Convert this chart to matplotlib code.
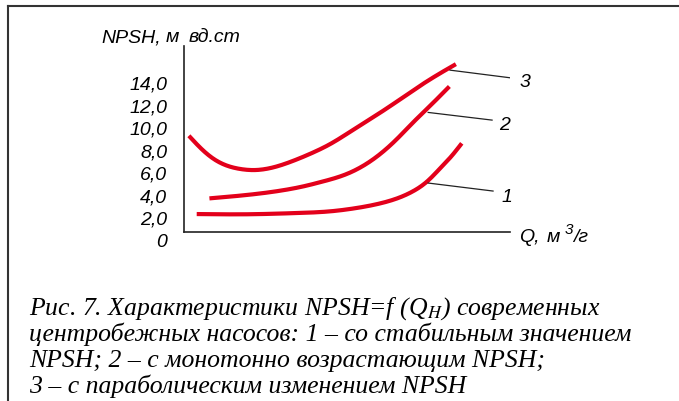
import numpy as np
import matplotlib.pyplot as plt
from matplotlib.lines import Line2D

plt.rcParams['mathtext.fontset'] = 'stix'

# curves (Q in arbitrary units 0..100, NPSH in m)
q1 = [3.9, 19.2, 34.6, 44.8, 51.9, 60.1, 65.2, 70.3, 74.5, 78.5, 82.1, 85.2]
npsh1 = [2.30, 2.28, 2.39, 2.54, 2.79, 3.24, 3.67, 4.33, 5.17, 6.33, 7.45, 8.57]
q2 = [7.8, 19.2, 29.5, 37.6, 41.7, 49.9, 58.1, 65.3, 70.3, 75.5, 81.4]
npsh2 = [3.69, 3.99, 4.37, 4.82, 5.12, 5.85, 7.17, 8.95, 10.43, 11.90, 13.61]
q3 = [1.5, 5.1, 9.2, 13.3, 17.4, 21.5, 27.4, 33.5, 39.7, 44.8, 51.9, 62.2, 72.4, 78.5, 83.4]
npsh3 = [9.24, 8.15, 7.17, 6.58, 6.29, 6.20, 6.44, 7.02, 7.77, 8.50, 9.77, 11.67, 13.67,
         14.77, 15.59]

# leader lines and curve numbers
lead_q = [[74.9, 94.8], [74.9, 94.5], [81.6, 100.9]]
lead_y = [[5.05, 4.34], [11.31, 10.63], [15.06, 14.35]]
lab_q = [99.1, 98.2, 104.6]
lab_y = [3.90, 10.27, 14.08]
lab_txt = ['1', '2', '3']

yticks = [0, 2, 4, 6, 8, 10, 12, 14]
ylabels = ['0', '2,0', '4,0', '6,0', '8,0', '10,0', '12,0', '14,0']

red = '#e3001b'
sans = 'Liberation Sans'


def spline(x, y, n=300):
    # natural cubic spline through the read points
    x = np.asarray(x, float); y = np.asarray(y, float)
    h = np.diff(x)
    m = len(x)
    A = np.zeros((m, m)); r = np.zeros(m)
    A[0, 0] = A[-1, -1] = 1
    for i in range(1, m - 1):
        A[i, i-1] = h[i-1]; A[i, i] = 2*(h[i-1] + h[i]); A[i, i+1] = h[i]
        r[i] = 3*((y[i+1] - y[i])/h[i] - (y[i] - y[i-1])/h[i-1])
    c = np.linalg.solve(A, r)
    b = (y[1:] - y[:-1])/h - h*(2*c[:-1] + c[1:])/3
    d = (c[1:] - c[:-1])/(3*h)
    xs = np.linspace(x[0], x[-1], n)
    k = np.clip(np.searchsorted(x, xs) - 1, 0, m - 2)
    dx = xs - x[k]
    return xs, y[k] + b[k]*dx + c[k]*dx**2 + d[k]*dx**3


fig = plt.figure(figsize=(6.79, 4.02), dpi=100)
ax = fig.add_axes([184/679, 1-241/402, 326/679, 194/402])

for q, v in [(q1, npsh1), (q2, npsh2), (q3, npsh3)]:
    xs, ys = spline(q, v)
    ax.plot(xs, ys, color=red, lw=3.0, solid_capstyle='butt')

for lq, ly in zip(lead_q, lead_y):
    ax.plot(lq, ly, color='#222222', lw=0.9)
for x, y, t in zip(lab_q, lab_y, lab_txt):
    ax.text(x, y, t, fontsize=14, style='italic', family=sans, ha='center', va='center',
            clip_on=False)

ax.set_xlim(0, 100)
ax.set_ylim(0, 17.2)
ax.set_xticks([])
ax.set_yticks(yticks)
ax.set_yticklabels(ylabels, fontsize=14, style='italic', family=sans)
ax.tick_params(axis='y', length=0, pad=12)
for s in ['top', 'right']:
    ax.spines[s].set_visible(False)
ax.spines['bottom'].set_position(('data', 0.7))
ax.spines['left'].set_bounds(0.7, 17.2)
for s in ['left', 'bottom']:
    ax.spines[s].set_linewidth(1.2)
    ax.spines[s].set_color('#222222')
ax.patch.set_alpha(0)

# axis titles, split in words to follow the wide spacing of the original
for txt, px in [('NPSH,', 101), ('м', 166), ('вд.ст', 189)]:
    fig.text(px/679, 1-38/402, txt, fontsize=14, style='italic', family=sans,
             ha='left', va='center')
for txt, px, py, fs in [('Q,', 519, 238, 14), ('м', 547, 238, 14), ('3', 565, 230, 11),
                        ('/г', 573, 238, 14)]:
    fig.text(px/679, 1-py/402, txt, fontsize=fs, style='italic', family=sans,
             ha='left', va='center')

# frame
fig.add_artist(Line2D([8/679, 1], [1-7/402, 1-7/402], color='#333333', lw=1.5))
fig.add_artist(Line2D([8/679, 8/679], [0, 1-7/402], color='#333333', lw=1.5))

caption = ['Рис. 7. Характеристики NPSH=f (Q$_H$) современных',
           'центробежных насосов: 1 – со стабильным значением',
           'NPSH; 2 – с монотонно возрастающим NPSH;',
           '3 – с параболическим изменением NPSH']
base = [315, 341, 367, 393]
for line, b in zip(caption, base):
    fig.text(29/679, 1-b/402, line, fontsize=18.5, style='italic', family='Liberation Serif',
             ha='left', va='baseline')

fig.savefig('out.png', dpi=100)
